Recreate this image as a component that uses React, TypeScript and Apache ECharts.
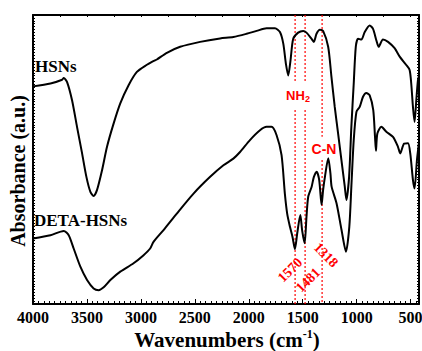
import React, { useEffect, useRef } from "react";
import * as echarts from "echarts";

// HSNs spectrum: wavenumber (cm-1) and absorbance (arbitrary units)
const hsnsWn = [4000, 3838, 3730, 3715, 3684, 3638, 3592, 3545, 3505, 3468, 3438, 3407, 3360, 3314, 3253, 3191, 3114, 3037, 2944, 2898, 2870, 2852, 2759, 2636, 2451, 2266, 2143, 2020, 1927, 1835, 1757, 1711, 1680, 1656, 1634, 1613, 1588, 1542, 1496, 1465, 1419, 1397, 1372, 1341, 1311, 1264, 1234, 1203, 1172, 1141, 1110, 1095, 1070, 1049, 1027, 1008, 987, 956, 925, 879, 848, 817, 796, 756, 709, 648, 601, 540, 509, 494, 478, 463, 447, 432, 422];
const hsnsAbs = [75.3, 76.3, 77.6, 78.2, 76.8, 70.5, 61.3, 52.1, 44.0, 38.8, 37.4, 39.4, 46.3, 54.4, 62.4, 69.4, 75.7, 80.3, 82.8, 83.8, 84.3, 84.6, 86.9, 89.0, 90.7, 91.9, 92.4, 93.5, 94.5, 95.4, 95.4, 94.1, 90.1, 83.2, 79.1, 84.3, 91.8, 93.9, 94.5, 93.9, 91.8, 90.7, 93.5, 94.9, 94.5, 89.0, 78.8, 68.2, 59.0, 49.8, 40.6, 36.0, 44.0, 61.3, 76.3, 89.0, 91.8, 91.5, 94.1, 96.4, 95.2, 91.2, 89.0, 91.5, 90.7, 88.5, 85.6, 82.7, 81.0, 76.3, 68.2, 63.0, 70.5, 77.4, 79.0];

// DETA-HSNs spectrum
const detaWn = [4000, 3838, 3715, 3669, 3623, 3561, 3499, 3438, 3392, 3345, 3283, 3191, 3068, 2975, 2914, 2883, 2790, 2667, 2512, 2358, 2235, 2143, 2081, 1989, 1896, 1835, 1789, 1742, 1696, 1665, 1644, 1618, 1595, 1572, 1551, 1522, 1505, 1482, 1465, 1449, 1417, 1397, 1371, 1347, 1325, 1311, 1294, 1263, 1243, 1232, 1186, 1140, 1099, 1068, 1049, 1027, 1002, 972, 941, 910, 879, 846, 830, 821, 808, 771, 725, 663, 617, 596, 560, 524, 503, 478, 463, 441, 422];
const detaAbs = [22.7, 23.8, 25.3, 23.8, 19.2, 12.9, 8.3, 5.4, 4.8, 5.8, 8.3, 11.2, 14.1, 16.9, 19.2, 21.5, 25.6, 31.3, 38.2, 44.0, 48.0, 50.3, 52.6, 56.7, 60.1, 61.3, 61.3, 58.4, 51.5, 38.0, 31.3, 26.7, 23.3, 19.0, 24.4, 30.8, 25.4, 21.0, 30.1, 37.1, 40.6, 43.9, 45.8, 42.9, 34.3, 39.4, 44.0, 50.4, 45.2, 40.6, 34.8, 25.6, 18.1, 26.7, 40.6, 56.7, 66.5, 68.2, 71.7, 73.0, 72.2, 67.1, 58.0, 53.0, 59.0, 61.3, 59.6, 57.8, 54.4, 52.1, 55.5, 55.6, 52.1, 42.9, 40.0, 49.8, 56.0];

// Axis ticks
const xMajorTicks = [4000, 3500, 3000, 2500, 2000, 1500, 1000, 500];
const xMin = 422;
const xMax = 4000;

// Marked bands and the label gaps in their guide lines (absorbance units)
const markedWn = [1570, 1481, 1318];
const markedGaps = [
  [76.8, 67.1],
  [76.8, 67.1],
  [57.9, 49.8],
];

const FONT = "'Liberation Serif', 'Times New Roman', serif";
const SANS = "'Liberation Sans', Arial, sans-serif";
const RED = "#ff0000";

export default function App() {
  const ref = useRef<HTMLDivElement>(null);

  useEffect(() => {
    if (!ref.current) return;
    const chart = echarts.init(ref.current, null, { renderer: "svg" });

    const minorTicks: number[] = [];
    for (let v = 450; v <= 4000; v += 50) minorTicks.push(v);
    const topTicks: number[] = [];
    for (let v = 500; v <= 4000; v += 250) topTicks.push(v);

    const zip = (a: number[], b: number[]) => a.map((x, i) => [x, b[i]]);

    const lineStyleBase = { color: "#000", width: 2 };

    const redNum = {
      fill: RED,
      font: `bold 14px ${FONT}`,
      align: "center",
      verticalAlign: "middle",
    };

    const staticGraphics: any[] = [
      { type: "text", left: 35, top: 58, z: 10, style: { text: "HSNs", fill: "#000", font: `bold 17px ${FONT}` } },
      { type: "text", left: 34, top: 212, z: 10, style: { text: "DETA-HSNs", fill: "#000", font: `bold 17px ${FONT}` } },
      {
        type: "text",
        x: 298,
        y: 95,
        z: 10,
        style: {
          text: "{a|NH}{b|2}",
          align: "center",
          verticalAlign: "middle",
          rich: {
            a: { fill: RED, fontFamily: SANS, fontWeight: "bold", fontSize: 13, lineHeight: 16, verticalAlign: "middle" },
            b: { fill: RED, fontFamily: SANS, fontWeight: "bold", fontSize: 9, lineHeight: 16, verticalAlign: "bottom", padding: [8, 0, 0, 0] },
          },
        },
      },
      {
        type: "text",
        x: 324,
        y: 149,
        z: 10,
        style: { text: "C-N", fill: RED, font: `bold 14px ${SANS}`, align: "center", verticalAlign: "middle" },
      },
      { type: "text", x: 290, y: 270, z: 10, rotation: Math.PI / 4, style: { ...redNum, text: String(markedWn[0]) } },
      { type: "text", x: 308, y: 280, z: 10, rotation: Math.PI / 4, style: { ...redNum, text: String(markedWn[1]) } },
      { type: "text", x: 326, y: 255, z: 10, rotation: -Math.PI / 4, style: { ...redNum, text: String(markedWn[2]) } },
      {
        type: "text",
        x: 18,
        y: 171,
        rotation: Math.PI / 2,
        style: { text: "Absorbance (a.u.)", fill: "#000", font: `bold 20px ${FONT}`, align: "center", verticalAlign: "middle" },
      },
      {
        type: "text",
        x: 227,
        y: 340,
        style: {
          text: "{a|Wavenumbers (cm}{s|-1}{a|)}",
          align: "center",
          verticalAlign: "middle",
          rich: {
            a: { fill: "#000", fontFamily: FONT, fontWeight: "bold", fontSize: 21, lineHeight: 24 },
            s: { fill: "#000", fontFamily: FONT, fontWeight: "bold", fontSize: 12, lineHeight: 24, verticalAlign: "top" },
          },
        },
      },
    ];

    chart.setOption({
      animation: false,
      backgroundColor: "#fff",
      grid: { left: 33, right: 3, top: 15, bottom: 47, containLabel: false, outerBoundsMode: "none" },
      xAxis: [
        {
          type: "value",
          min: xMin,
          max: xMax,
          inverse: true,
          position: "bottom",
          axisLine: { show: true, lineStyle: lineStyleBase },
          axisTick: { show: true, inside: true, length: 5, customValues: xMajorTicks, lineStyle: { color: "#000", width: 1 } },
          axisLabel: {
            customValues: xMajorTicks,
            formatter: (v: number) => String(v),
            hideOverlap: false,
            showMinLabel: true,
            showMaxLabel: true,
            color: "#000",
            fontFamily: FONT,
            fontWeight: "bold",
            fontSize: 16,
            margin: 5,
          },
          splitLine: { show: false },
        },
        {
          type: "value",
          min: xMin,
          max: xMax,
          inverse: true,
          position: "bottom",
          axisLine: { show: false },
          axisTick: { show: true, inside: true, length: 3, customValues: minorTicks, lineStyle: { color: "#000", width: 1 } },
          axisLabel: { show: false },
          splitLine: { show: false },
        },
        {
          type: "value",
          min: xMin,
          max: xMax,
          inverse: true,
          position: "top",
          axisLine: { show: true, lineStyle: lineStyleBase },
          axisTick: { show: true, inside: true, length: 2, customValues: topTicks, lineStyle: { color: "#000", width: 1 } },
          axisLabel: { show: false },
          splitLine: { show: false },
        },
      ],
      yAxis: [
        {
          type: "value",
          min: 0,
          max: 100,
          interval: 1,
          position: "left",
          axisLine: { show: true, lineStyle: lineStyleBase },
          axisTick: { show: true, inside: true, length: 2, lineStyle: { color: "#000", width: 1 } },
          axisLabel: { show: false },
          splitLine: { show: false },
        },
        {
          type: "value",
          min: 0,
          max: 100,
          interval: 1,
          position: "right",
          axisLine: { show: true, lineStyle: lineStyleBase },
          axisTick: { show: true, inside: true, length: 2, lineStyle: { color: "#000", width: 1 } },
          axisLabel: { show: false },
          splitLine: { show: false },
        },
      ],
      series: [
        {
          name: "HSNs",
          type: "line",
          xAxisIndex: 0,
          yAxisIndex: 0,
          data: zip(hsnsWn, hsnsAbs),
          showSymbol: false,
          smooth: 0.25,
          z: 3,
          lineStyle: { color: "#000", width: 2 },
        },
        {
          name: "DETA-HSNs",
          type: "line",
          xAxisIndex: 0,
          yAxisIndex: 0,
          data: zip(detaWn, detaAbs),
          showSymbol: false,
          smooth: 0.25,
          z: 3,
          lineStyle: { color: "#000", width: 2 },
        },
      ],
      graphic: staticGraphics,
    });

    // Red dotted guide lines, positioned through the chart's own scales
    const guideLines: any[] = [];
    markedWn.forEach((wn, i) => {
      const [gTop, gBot] = markedGaps[i];
      const segs = [
        [100, gTop],
        [gBot, 0],
      ];
      segs.forEach(([a, b]) => {
        const p1 = chart.convertToPixel({ gridIndex: 0 }, [wn, a]) as number[];
        const p2 = chart.convertToPixel({ gridIndex: 0 }, [wn, b]) as number[];
        const x = Math.round(p1[0]);
        guideLines.push({
          type: "rect",
          z: 1,
          silent: true,
          shape: { x: x - 0.6, y: Math.min(p1[1], p2[1]), width: 1.2, height: Math.abs(p2[1] - p1[1]) },
          style: { fill: "none", stroke: RED, lineWidth: 0 },
        });
        const top = Math.min(p1[1], p2[1]);
        const bot = Math.max(p1[1], p2[1]);
        for (let y = top; y < bot; y += 4) {
          guideLines.push({
            type: "rect",
            z: 1,
            silent: true,
            shape: { x: x - 0.5, y, width: 1.2, height: Math.min(2, bot - y) },
            style: { fill: RED },
          });
        }
      });
    });
    chart.setOption({ graphic: [...staticGraphics, ...guideLines] });

    return () => chart.dispose();
  }, []);

  return <div ref={ref} style={{ width: 422, height: 351, position: "absolute", left: 0, top: 0 }} />;
}
